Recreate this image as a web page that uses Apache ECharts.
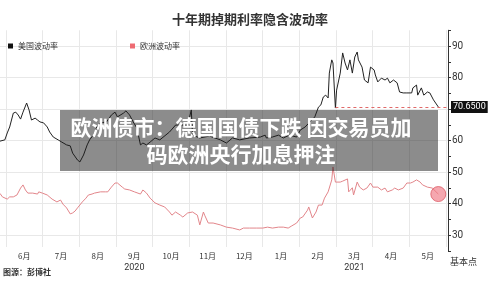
<!DOCTYPE html>
<html>
<head>
<meta charset="utf-8">
<script src="https://cdn.jsdelivr.net/npm/echarts@6/dist/echarts.min.js"></script>
<style>
html,body{margin:0;padding:0;background:#fff}
#chart{width:500px;height:281px}
</style>
</head>
<body>
<div id="chart"></div>
<script>
// 美国波动率 (black)
var usDates = ['2020-05-27','2020-05-31','2020-06-02','2020-06-04','2020-06-07','2020-06-09','2020-06-11','2020-06-13','2020-06-15','2020-06-18',
  '2020-06-20','2020-06-22','2020-06-25','2020-06-27','2020-06-29','2020-07-02','2020-07-05','2020-07-07','2020-07-10','2020-07-14',
  '2020-07-17','2020-07-21','2020-07-24','2020-07-26','2020-07-30','2020-08-01','2020-08-04','2020-08-07','2020-08-09','2020-08-12',
  '2020-08-15','2020-08-18','2020-08-23','2020-08-27','2020-08-30','2020-09-01','2020-09-06','2020-09-08','2020-09-11','2020-09-14',
  '2020-09-17','2020-09-20','2020-09-22','2020-09-25','2020-09-28','2020-10-02','2020-10-06','2020-10-14','2020-10-19','2020-10-29',
  '2020-11-01','2020-11-02','2020-11-08','2020-11-16','2020-11-25','2020-11-30','2020-12-05','2020-12-11','2020-12-19','2020-12-28',
  '2021-01-01','2021-01-02','2021-01-07','2021-01-12','2021-01-16','2021-01-21','2021-01-27','2021-01-30','2021-02-03','2021-02-07',
  '2021-02-11','2021-02-14','2021-02-16','2021-02-18','2021-02-20','2021-02-22','2021-02-23','2021-02-25','2021-02-26','2021-02-28',
  '2021-03-01','2021-03-04','2021-03-06','2021-03-08','2021-03-10','2021-03-12','2021-03-14','2021-03-16','2021-03-18','2021-03-19',
  '2021-03-22','2021-03-24','2021-03-27','2021-03-29','2021-04-01','2021-04-02','2021-04-04','2021-04-07','2021-04-10','2021-04-12',
  '2021-04-14','2021-04-17','2021-04-20','2021-04-22','2021-04-25','2021-04-28','2021-05-02','2021-05-03','2021-05-06','2021-05-07',
  '2021-05-10','2021-05-12','2021-05-15','2021-05-17','2021-05-20','2021-05-24'];
var usValues = [59.8,60.2,62.4,64.3,68.7,69.0,68.1,66.8,69.0,71.9,
  69.7,66.5,67.1,66.5,65.9,65.6,64.3,62.7,61.1,60.2,
  59.5,58.6,58.3,56.0,53.8,53.2,55.4,58.6,60.2,61.7,
  64.3,65.6,65.9,68.1,69.0,67.5,68.7,69.4,68.1,65.9,
  64.0,58.6,59.2,58.6,59.5,60.8,60.2,62.7,64.9,64.9,
  69.7,61.7,60.8,61.4,60.2,59.2,60.8,60.2,60.8,61.1,
  61.7,60.8,61.1,61.7,60.8,61.7,61.1,63.3,64.3,65.9,
  67.5,70.6,71.3,73.8,74.4,73.5,81.4,85.6,84.6,70.3,
  76.0,81.4,87.8,84.6,82.4,85.6,81.4,86.5,88.1,85.6,
  83.3,79.2,78.3,83.3,82.4,80.8,78.6,79.8,79.2,79.8,
  78.3,79.2,78.3,75.4,75.1,75.1,75.1,76.7,77.6,74.4,
  76.7,74.4,75.4,75.1,72.9,70.65];

// 欧洲波动率 (red)
var euDates = ['2020-05-27','2020-05-29','2020-06-02','2020-06-04','2020-06-07','2020-06-10','2020-06-13','2020-06-15','2020-06-17','2020-06-19',
  '2020-06-23','2020-06-27','2020-06-28','2020-07-01','2020-07-05','2020-07-09','2020-07-13','2020-07-16','2020-07-18','2020-07-21',
  '2020-07-24','2020-07-26','2020-07-28','2020-07-30','2020-08-03','2020-08-04','2020-08-06','2020-08-08','2020-08-11','2020-08-13',
  '2020-08-18','2020-08-22','2020-08-24','2020-08-27','2020-08-30','2020-09-01','2020-09-05','2020-09-07','2020-09-11','2020-09-15',
  '2020-09-20','2020-09-22','2020-09-25','2020-09-28','2020-10-02','2020-10-06','2020-10-10','2020-10-14','2020-10-16','2020-10-19',
  '2020-10-23','2020-10-25','2020-10-29','2020-11-02','2020-11-06','2020-11-08','2020-11-11','2020-11-12','2020-11-15','2020-11-19',
  '2020-11-25','2020-11-30','2020-12-05','2020-12-11','2020-12-14','2020-12-19','2020-12-25','2020-12-30','2021-01-03','2021-01-07',
  '2021-01-12','2021-01-16','2021-01-20','2021-01-23','2021-01-27','2021-01-30','2021-02-01','2021-02-05','2021-02-06','2021-02-09',
  '2021-02-12','2021-02-14','2021-02-17','2021-02-19','2021-02-22','2021-02-25','2021-02-26','2021-02-28','2021-03-04','2021-03-06',
  '2021-03-10','2021-03-11','2021-03-14','2021-03-15','2021-03-18','2021-03-20','2021-03-23','2021-03-26','2021-03-29','2021-03-31',
  '2021-04-04','2021-04-07','2021-04-10','2021-04-12','2021-04-16','2021-04-18','2021-04-21','2021-04-25','2021-04-28','2021-05-01',
  '2021-05-03','2021-05-06','2021-05-09','2021-05-11','2021-05-15','2021-05-19','2021-05-24'];
var euValues = [43.2,42.1,41.4,42.1,42.1,42.7,44.9,45.9,44.3,43.3,
  43.3,43.0,43.7,43.3,42.7,41.4,40.5,41.1,39.8,38.6,
  36.7,37.0,37.6,38.6,40.5,40.2,41.7,42.7,43.0,43.3,
  43.7,43.7,43.7,45.2,46.5,46.5,45.2,44.6,44.3,43.7,
  43.0,44.3,43.3,41.7,40.2,39.5,38.9,37.3,36.3,37.3,
  36.3,35.7,37.0,37.3,36.3,33.2,37.3,36.3,33.8,33.8,
  33.2,32.5,32.2,31.6,32.2,32.2,32.2,32.2,32.5,32.2,
  32.5,32.5,32.2,32.9,33.8,35.4,35.7,37.9,38.9,35.4,
  37.3,39.5,39.5,41.7,43.7,47.5,51.6,46.8,46.8,47.1,
  47.8,43.7,45.0,42.7,46.8,45.2,44.3,44.9,46.5,45.2,
  45.2,44.3,44.9,43.7,44.3,44.9,44.3,44.9,46.5,46.5,
  46.8,47.5,46.8,45.9,45.2,44.9,43.0];

var monthLabels = ['6月','7月','8月','9月','10月','11月','12月','1月','2月','3月','4月','5月'];
var yearUnder = {'9月': '2020', '3月': '2021'};
var usLast = 70.65;
var euLast = 43.0;

function zip(dates, vals) {
  return dates.map(function (d, i) { return [d, vals[i]]; });
}

var cjk = '"Noto Sans CJK SC", sans-serif';
var chart = echarts.init(document.getElementById('chart'));

chart.setOption({
  animation: false,
  backgroundColor: '#fff',
  title: {
    text: '十年期掉期利率隐含波动率',
    left: 'center',
    top: 8,
    textStyle: { fontFamily: cjk, fontSize: 13, fontWeight: 'bold', color: '#333' }
  },
  legend: {
    left: 3,
    top: 37,
    icon: 'rect',
    itemWidth: 5,
    itemHeight: 5,
    itemGap: 72,
    textStyle: { fontFamily: cjk, fontSize: 8, color: '#333' },
    data: ['美国波动率', '欧洲波动率']
  },
  grid: [
    { left: 0, right: 52, top: 30.25, bottom: 30.25 },
    { left: 6, right: 54, top: 30.25, bottom: 34 }
  ],
  xAxis: [
    {
      type: 'time', gridIndex: 0,
      min: '2020-05-27', max: '2021-06-01',
      axisLine: { show: false }, axisTick: { show: false },
      axisLabel: { show: false }, splitLine: { show: false }
    },
    {
      type: 'category', gridIndex: 1,
      data: monthLabels,
      boundaryGap: true,
      axisLine: { show: false }, axisTick: { show: false },
      splitLine: { show: true, lineStyle: { color: '#e8e8e8', width: 1 } },
      axisLabel: {
        margin: 3,
        interval: 0,
        formatter: function (v) {
          return yearUnder[v] ? '{m|' + v + '}\n{y|' + yearUnder[v] + '}' : '{m|' + v + '}';
        },
        rich: {
          m: { fontFamily: cjk, fontSize: 8, color: '#333', lineHeight: 11 },
          y: { fontFamily: 'Roboto, sans-serif', fontSize: 9, color: '#333', lineHeight: 13 }
        }
      }
    }
  ],
  yAxis: [
    {
      type: 'value', gridIndex: 0, position: 'right',
      min: 25, max: 95, interval: 5,
      name: '基本点', nameLocation: 'start', nameGap: 6,
      nameTextStyle: { fontFamily: cjk, fontSize: 9, color: '#333', align: 'left', padding: [0, 0, 0, 2] },
      axisLine: { show: true, lineStyle: { color: '#333', width: 1 } },
      axisTick: { show: true, length: 3, lineStyle: { color: '#333' } },
      axisLabel: {
        margin: 4, fontSize: 10, color: '#333', fontFamily: 'Roboto, sans-serif',
        formatter: function (v) { return v % 10 === 0 ? String(v) : ''; }
      },
      splitLine: { show: true, lineStyle: { color: ['transparent', '#e8e8e8'], width: 1 } }
    },
    { type: 'value', gridIndex: 1, show: false, min: 0, max: 1 }
  ],
  series: [
    {
      name: '美国波动率',
      type: 'line',
      xAxisIndex: 0, yAxisIndex: 0,
      data: zip(usDates, usValues),
      showSymbol: false,
      color: '#111',
      lineStyle: { color: '#222', width: 1 },
      z: 3,
      markLine: {
        silent: true,
        symbol: 'none',
        lineStyle: { color: '#e06a6a', type: [3, 3], width: 1 },
        label: {
          show: true, position: 'end', distance: 3,
          formatter: usLast.toFixed(4),
          backgroundColor: '#111', color: '#fff',
          fontSize: 9, fontFamily: 'Roboto, sans-serif', padding: [2, 2, 1, 2]
        },
        data: [[{ coord: ['2021-02-28', usLast] }, { coord: ['2021-06-01', usLast] }]]
      }
    },
    {
      name: '欧洲波动率',
      type: 'line',
      xAxisIndex: 0, yAxisIndex: 0,
      data: zip(euDates, euValues),
      showSymbol: false,
      color: '#ee6b72',
      lineStyle: { color: '#e2858a', width: 1 },
      z: 2,
      markPoint: {
        silent: true,
        symbol: 'circle',
        symbolSize: 15,
        itemStyle: { color: 'rgba(240,120,132,0.65)', borderColor: 'rgba(220,90,100,0.8)', borderWidth: 1 },
        label: { show: false },
        data: [{ coord: ['2021-05-24', euLast] }]
      },
      markLine: {
        silent: true,
        symbol: 'none',
        lineStyle: { opacity: 0 },
        label: {
          show: true, position: 'end', distance: 3,
          formatter: euLast.toFixed(4),
          backgroundColor: '#f28080', color: '#a01010',
          borderColor: '#d65050', borderWidth: 1,
          fontSize: 9, fontFamily: 'Roboto, sans-serif', padding: [1, 2, 0, 2]
        },
        data: [[{ coord: ['2021-05-24', euLast] }, { coord: ['2021-06-01', euLast] }]]
      }
    }
  ],
  graphic: [
    {
      type: 'rect', z: 100,
      shape: { x: 60, y: 110, width: 378, height: 61 },
      style: { fill: 'rgba(25,25,25,0.5)' }
    },
    {
      type: 'text', z: 101,
      x: 241, y: 141,
      style: {
        text: '欧洲债市：德国国债下跌 因交易员加\n码欧洲央行加息押注',
        fill: '#fff',
        font: 'bold 21px "Noto Sans CJK SC", sans-serif',
        align: 'center',
        verticalAlign: 'middle',
        lineHeight: 27
      }
    },
    {
      type: 'text', z: 101,
      left: 3, top: 268,
      style: {
        text: '图源：彭博社',
        fill: '#333',
        font: 'bold 8px "Noto Sans CJK SC", sans-serif'
      }
    }
  ]
});
</script>
</body>
</html>
